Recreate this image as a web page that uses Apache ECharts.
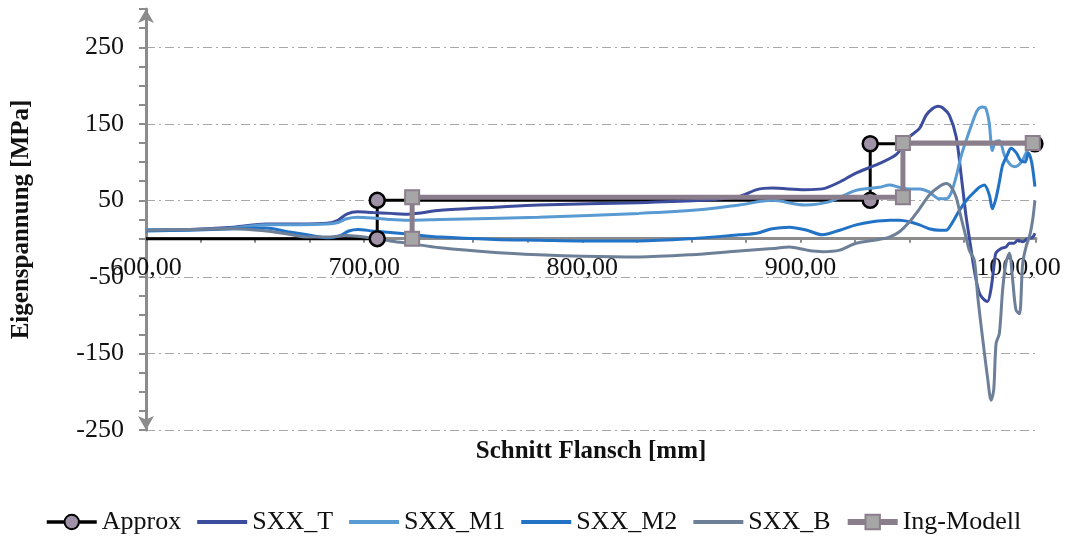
<!DOCTYPE html>
<html><head><meta charset="utf-8">
<script src="https://cdn.jsdelivr.net/npm/echarts@6/dist/echarts.min.js"></script>
<style>html,body{margin:0;padding:0;background:#fff}#c{width:1070px;height:537px}</style>
</head><body><div id="c"></div>
<script>
// ---- data ----
const xTickLabels = ['600,00','700,00','800,00','900,00','1000,00'];
const yTickValues = [-250,-150,-50,50,150,250];

const approxX = [600, 706, 706, 932, 932, 1007.5];
const approxY = [0, 0, 50, 50, 124, 124];

const ingX = [722, 722, 947, 947, 1006.5];
const ingY = [0, 54, 54, 125, 125];

const tX = [600,620,640,655,670,683,688,692,697,704,712,720,735,760,780,826,855,872,880,887,902,910,918,925,936,944,950,954.6,957.6,960.6,963,965.2,968.3,971.4,973.6,975.9,977.5,979.7,982,984.3,985.8,987.3,988.9,989.6,992,994.2,995.8,998,999.6,1001.9,1004.2,1006.5,1007.5];
const tY = [11,12,15,19,19,20,24,32,35,34,33,32,37,41,44,47,50,55,64,66,64,65,74,85,98,110,133,144,161,170,173,171,161,133,85,30,0,-41,-71,-80,-82,-67,-32,-19,-13,-11,-6,-6,-2,-4,0,2,7];

const m1X = [600,620,640,655,670,683,688,692,697,704,712,720,735,780,826,855,872,887,902,913,925.5,936,941,945.4,950,954.6,959,963.7,966.8,969,971.4,973.6,975,978.9,981.2,983.5,985,986.5,988,989.2,991.2,993.5,995.8,998,1000,1002,1004,1006,1007.5];
const m1Y = [12,12,14,18,18,19,21,26,28,27,25,24,25,28,33,38,44,50,44,48,63,67,70,67,65,65,61,52,52,59,81,107,120,152,168,172,170,152,115,126,128,109,98,94,96,103,115,122,120];

const m2X = [600,620,640,655,665,674,684,689,693,697,704,712,720,735,760,780,800,826,850,872,880,887,895,903,910,918,925.5,933,941,945.4,950,954.6,959,963.7,966.8,969,972.9,976.7,980.5,982,984.3,986.6,988,989.6,991.2,992.7,994.8,996.5,999,1001,1003,1004.5,1006,1007.5];
const m2Y = [10,11,13,14,9,5,1,4,10,12,10,8,6,2,-1,-2,-3,-3,0,5,7,13,15,11,5,11,18,22,24,24,22,18,13,11,11,18,37,52,63,67,70,57,39,52,74,96,109,118,112,102,100,112,100,68];

const bX = [600,620,640,655,665,674,684,692,697,704,712,720,735,760,780,800,826,850,872,887,895,903,910,918,925.5,936,940.8,945.4,950,954.6,959.1,963.7,966.8,969,971.4,973.6,975.9,977.4,979.7,981.3,983.6,985.9,987.4,988.6,989.7,991.2,992.7,994.2,995.8,997.3,998.8,1000.4,1001.9,1003.5,1005.2,1006.5,1007.5];
const bY = [11,12,13,10,6,2,2,4,3,0.5,-3,-6,-12,-18,-21,-23,-24,-21,-16,-13,-11,-15,-17,-15,-6,-1,2,9,22,39,57,68,72,68,54,28,2,-15,-28,-76,-132,-184,-211,-198,-137,-124,-67,-32,-19,-54,-93,-98,-32,-10,5,25,50];

// ---- build ----
const zip = (xs, ys) => xs.map((x, i) => [x, ys[i]]);
const FONT = 'Liberation Serif';
const GRID = {left: 146, right: 34, top: 9, bottom: 107};
const Y_MIN = -250, Y_MAX = 300;
const plotH = 537 - GRID.top - GRID.bottom;
// x axis crosses at y = 0: shift it up from the grid bottom by the pixel distance of 0 above min
const zeroOffset = -plotH * (0 - Y_MIN) / (Y_MAX - Y_MIN);

const approxData = zip(approxX, approxY).map((p, i) => i === 0 ? {value: p, symbol: 'none'} : p);

const curve = (name, xs, ys, color) => ({
  name, type: 'line', data: zip(xs, ys), symbol: 'none', smooth: 0.3,
  lineStyle: {color, width: 3}, itemStyle: {color}
});
const plainLegend = name => ({name, itemStyle: {opacity: 0}, lineStyle: {width: 4}});

const chart = echarts.init(document.getElementById('c'));
chart.setOption({
  animation: false,
  backgroundColor: '#fff',
  grid: Object.assign({containLabel: false, outerBoundsMode: 'none'}, GRID),
  xAxis: {
    type: 'value', min: 600, max: 1008, interval: 100,
    position: 'bottom', offset: zeroOffset,
    axisLine: {onZero: false, lineStyle: {color: '#8c8c8c', width: 3}},
    axisTick: {show: true, length: 4, lineStyle: {color: '#8c8c8c', width: 2}},
    minorTick: {show: true, splitNumber: 4, length: 4, lineStyle: {color: '#8c8c8c', width: 2}},
    splitLine: {show: false},
    axisLabel: {
      showMaxLabel: false, margin: 17, color: '#111', fontFamily: FONT, fontSize: 26,
      formatter: v => xTickLabels[Math.round((v - 600) / 100)] ?? ''
    },
    name: 'Schnitt Flansch [mm]', nameLocation: 'middle', nameGap: 200,
    nameTextStyle: {fontFamily: FONT, fontSize: 25, fontWeight: 'bold', color: '#111'}
  },
  yAxis: {
    type: 'value', min: Y_MIN, max: Y_MAX, interval: 100,
    axisLine: {show: true, symbol: ['arrow', 'arrow'], symbolSize: [12, 14], lineStyle: {color: '#8c8c8c', width: 3}},
    axisTick: {show: true, length: 7, lineStyle: {color: '#8c8c8c', width: 2}},
    minorTick: {show: true, splitNumber: 4, length: 7, lineStyle: {color: '#8c8c8c', width: 2}},
    splitLine: {show: true, showMaxLine: false, lineStyle: {color: '#a8a8a8', width: 1, type: [9, 4, 2, 4]}},
    axisLabel: {
      showMaxLabel: false, margin: 22, color: '#111', fontFamily: FONT, fontSize: 26,
      formatter: v => yTickValues.includes(v) ? String(v) : ''
    },
    name: 'Eigenspannung [MPa]', nameLocation: 'middle', nameGap: 112,
    nameTextStyle: {fontFamily: FONT, fontSize: 25, fontWeight: 'bold', color: '#111'}
  },
  legend: {
    top: 504, left: 40, itemWidth: 50, itemHeight: 18, itemGap: 14,
    textStyle: {fontFamily: FONT, fontSize: 26, color: '#111'},
    data: [
      {name: 'Approx', lineStyle: {width: 3.5}},
      plainLegend('SXX_T'),
      plainLegend('SXX_M1'),
      plainLegend('SXX_M2'),
      plainLegend('SXX_B'),
      {name: 'Ing-Modell', lineStyle: {width: 6}}
    ]
  },
  series: [
    {
      name: 'Approx', type: 'line', data: approxData, symbol: 'circle', symbolSize: 15,
      lineStyle: {color: '#000', width: 3},
      itemStyle: {color: '#9f92a6', borderColor: '#000', borderWidth: 2.5}, z: 3
    },
    curve('SXX_T', tX, tY, '#3d4d9e'),
    curve('SXX_M1', m1X, m1Y, '#5a9ad2'),
    curve('SXX_M2', m2X, m2Y, '#2272c6'),
    curve('SXX_B', bX, bY, '#6e7f98'),
    {
      name: 'Ing-Modell', type: 'line', data: zip(ingX, ingY), symbol: 'rect', symbolSize: 14,
      lineStyle: {color: '#8b7e8c', width: 5},
      itemStyle: {color: '#a6a6a6', borderColor: '#8b7e8c', borderWidth: 2}, z: 4
    }
  ]
});
</script>
</body></html>
